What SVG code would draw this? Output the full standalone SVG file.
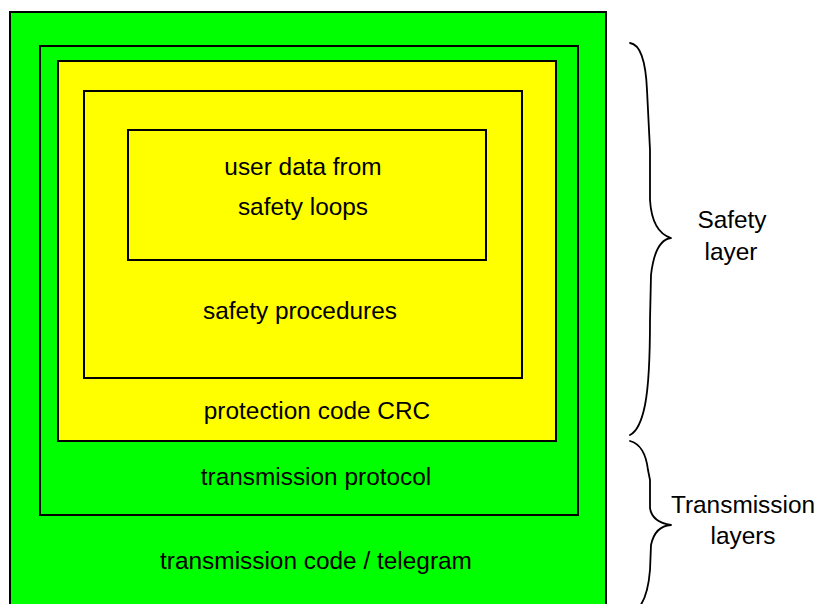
<svg xmlns="http://www.w3.org/2000/svg" width="816" height="604" viewBox="0 0 816 604">
  <style>
    .box { stroke: #000; stroke-width: 2; }
    .green { fill: #00ff00; }
    .yellow { fill: #ffff00; }
    text { font-family: "Liberation Sans", Arial, sans-serif; font-size: 24.4px; fill: #000; text-anchor: middle; }
    .brace { fill: none; stroke: #000; stroke-width: 1.8; stroke-linecap: round; stroke-linejoin: round; }
  </style>
  <rect width="816" height="604" fill="#fff"/>

  <g id="transmission-code">
    <rect class="box green" x="10" y="12" width="596" height="600"/>
    <text x="316" y="569">transmission code / telegram</text>
  </g>

  <g id="transmission-protocol">
    <rect class="box green" x="40" y="46" width="538" height="469"/>
    <text x="316" y="485">transmission protocol</text>
  </g>

  <g id="protection-code">
    <rect class="box yellow" x="58" y="61" width="498" height="380"/>
    <text x="317" y="419">protection code CRC</text>
  </g>

  <g id="safety-procedures">
    <rect class="box yellow" x="84" y="91" width="438" height="287"/>
    <text x="300" y="319">safety procedures</text>
  </g>

  <g id="user-data">
    <rect class="box yellow" x="128" y="130" width="358" height="130"/>
    <text x="303" y="175">user data from</text>
    <text x="303" y="215">safety loops</text>
  </g>

  <g id="braces">
    <!-- safety layer brace -->
    <path class="brace" d="M630,43 Q645,45 647,90 L650,150 L650,200 Q652,232 671,238 Q655,240 651,275 L650,320 Q650,380 645,405 Q640,430 630,435"/>
    <!-- transmission layers brace -->
    <path class="brace" d="M630,441 Q645,445 648,470 L650,480 L650,508 Q652,522 671,525 Q655,526 651,545 L650,570 Q648,595 640,606"/>
  </g>

  <g id="labels">
    <text x="732" y="228">Safety</text>
    <text x="731" y="260">layer</text>
    <text x="743" y="513">Transmission</text>
    <text x="743" y="544">layers</text>
  </g>
</svg>
